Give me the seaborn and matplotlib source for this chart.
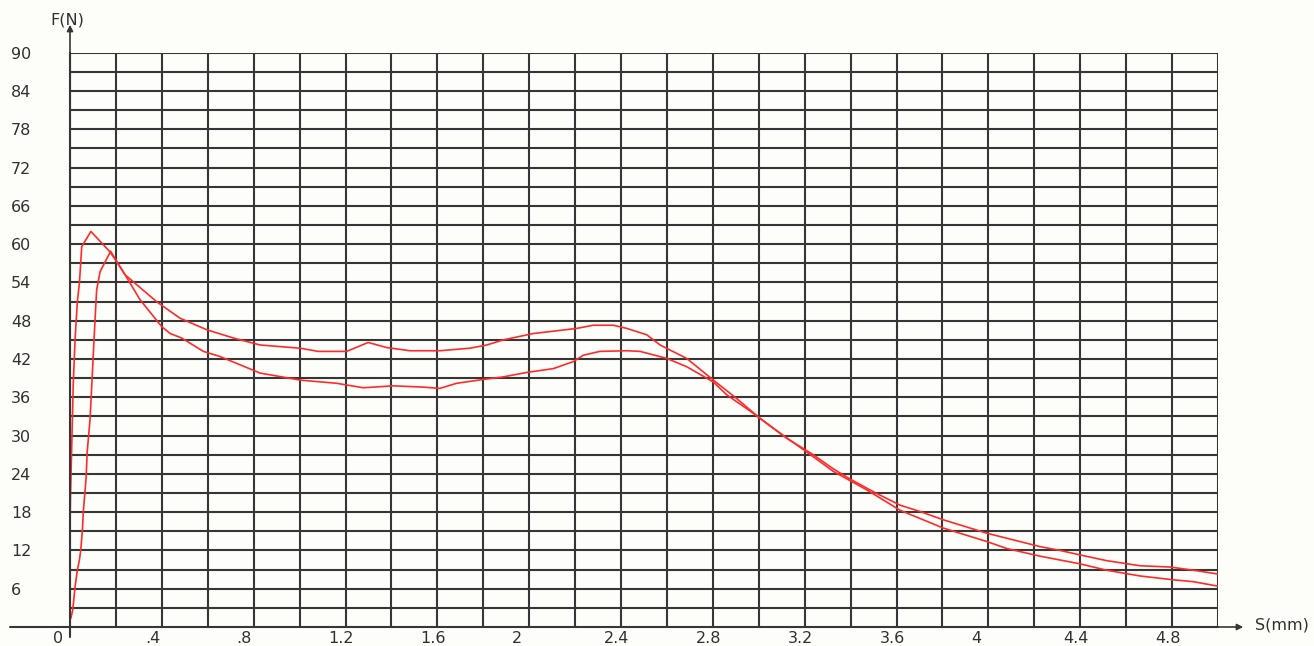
import numpy as np
import pandas as pd
import matplotlib
matplotlib.use('Agg')
import matplotlib.pyplot as plt
import seaborn as sns
from matplotlib.transforms import ScaledTranslation

# ==========================================
# data
# ==========================================
s_a = [0.000, 0.002, 0.008, 0.014, 0.022, 0.032, 0.041, 0.046, 0.051, 0.091,
       0.174, 0.203, 0.240, 0.305, 0.399, 0.436, 0.486, 0.581, 0.653, 0.828,
       1.002, 1.161, 1.277, 1.408, 1.539, 1.611, 1.684, 1.800, 1.887, 1.989,
       2.105, 2.192, 2.236, 2.308, 2.425, 2.483, 2.599, 2.686, 2.802, 2.860,
       2.976, 3.092, 3.237, 3.324, 3.470, 3.615, 3.804, 3.993, 4.080, 4.225,
       4.312, 4.399, 4.515, 4.660, 4.805, 4.893, 5.000]
f_a = [16.0, 20.4, 29.0, 38.0, 45.0, 51.0, 53.9, 56.7, 59.6, 62.0,
       58.8, 57.3, 55.2, 51.3, 47.1, 46.0, 45.3, 43.2, 42.4, 39.8,
       38.7, 38.2, 37.5, 37.8, 37.6, 37.4, 38.2, 38.8, 39.2, 39.9,
       40.5, 41.6, 42.6, 43.2, 43.3, 43.2, 42.1, 40.8, 38.4, 36.4,
       33.5, 30.4, 26.7, 24.4, 21.5, 18.3, 15.5, 13.4, 12.3, 11.1,
       10.5, 9.9, 8.9, 8.0, 7.4, 7.1, 6.4]

s_b = [0.004, 0.012, 0.022, 0.032, 0.041, 0.047, 0.054, 0.058, 0.070, 0.075,
       0.087, 0.095, 0.101, 0.109, 0.116, 0.131, 0.177, 0.203, 0.240, 0.377,
       0.479, 0.595, 0.711, 0.828, 1.002, 1.081, 1.205, 1.299, 1.379, 1.481,
       1.611, 1.742, 1.815, 1.887, 2.018, 2.207, 2.279, 2.366, 2.425, 2.512,
       2.570, 2.686, 2.802, 2.904, 3.005, 3.121, 3.237, 3.324, 3.397, 3.499,
       3.615, 3.702, 3.804, 3.993, 4.225, 4.312, 4.399, 4.515, 4.660, 4.791,
       4.893, 5.000]
f_b = [1.4, 2.7, 6.3, 8.9, 10.5, 12.1, 15.2, 18.1, 23.3, 27.5,
       32.4, 38.0, 42.4, 48.1, 52.8, 55.7, 58.9, 57.3, 55.2, 51.0,
       48.4, 46.6, 45.3, 44.2, 43.7, 43.2, 43.2, 44.6, 43.8, 43.3,
       43.3, 43.7, 44.2, 45.0, 46.0, 46.8, 47.3, 47.3, 46.8, 45.8,
       44.2, 42.1, 38.7, 35.8, 32.7, 29.6, 27.0, 24.8, 23.2, 21.2,
       19.1, 18.1, 16.8, 14.7, 12.6, 12.0, 11.3, 10.4, 9.6, 9.4,
       8.9, 8.3]

x_ticks = [0, 0.4, 0.8, 1.2, 1.6, 2.0, 2.4, 2.8, 3.2, 3.6, 4.0, 4.4, 4.8]
x_labels = ['0', '.4', '.8', '1.2', '1.6', '2', '2.4', '2.8', '3.2', '3.6', '4', '4.4', '4.8']
y_ticks = [6, 12, 18, 24, 30, 36, 42, 48, 54, 60, 66, 72, 78, 84, 90]
y_labels = [str(v) for v in y_ticks]

# ==========================================
# style
# ==========================================
sns.set_style('white')
plt.rcParams['font.family'] = ['DejaVu Sans']

BG = '#fdfdf9'
GRID = '#363636'
RED = '#ff2b2b'
TXT = '#303030'

fig = plt.figure(figsize=(13.14, 6.46), dpi=100, facecolor=BG)
ax = fig.add_axes([70 / 1314, 19 / 646, 1148 / 1314, (627 - 52.8) / 646])
ax.set_facecolor(BG)

df_a = pd.DataFrame({'S': s_a, 'F': f_a})
df_b = pd.DataFrame({'S': s_b, 'F': f_b})
sns.lineplot(data=df_a, x='S', y='F', sort=False, estimator=None, color=RED, lw=1.2, ax=ax, zorder=3)
sns.lineplot(data=df_b, x='S', y='F', sort=False, estimator=None, color=RED, lw=1.2, ax=ax, zorder=3)

ax.set_xlim(0, 5.0)
ax.set_ylim(0, 90)

# grid every 0.2 / 3, labels every 0.4 / 6
ax.set_xticks(np.arange(0.2, 5.01, 0.2), minor=True)
ax.set_yticks(np.arange(3, 90.1, 3), minor=True)
ax.set_xticks(x_ticks)
ax.set_xticklabels(x_labels)
ax.set_yticks(y_ticks)
ax.set_yticklabels(y_labels)
ax.grid(which='both', color=GRID, lw=1.5)
ax.tick_params(which='both', length=0)
ax.tick_params(axis='y', pad=42.5, labelsize=11.5, labelcolor=TXT)
ax.tick_params(axis='x', pad=3, labelsize=11.5, labelcolor=TXT)
for lab in ax.get_yticklabels():
    lab.set_horizontalalignment('left')
for lab in ax.get_xticklabels():
    lab.set_horizontalalignment('left')
    lab.set_transform(lab.get_transform() + ScaledTranslation(-0.17, 0, fig.dpi_scale_trans))

for sp in ax.spines.values():
    sp.set_visible(False)

# axes with arrows
ax.plot([-0.26, 5.0], [0, 0], color=GRID, lw=1.5, clip_on=False, zorder=4)
ax.plot([0, 0], [-1.6, 90], color=GRID, lw=1.5, clip_on=False, zorder=4)
ax.annotate('', xy=(5.11, 0), xytext=(5.0, 0), annotation_clip=False,
            arrowprops=dict(arrowstyle='-|>', color=GRID, lw=1.2, mutation_scale=9, shrinkA=0, shrinkB=0))
ax.annotate('', xy=(0, 94.4), xytext=(0, 90), annotation_clip=False,
            arrowprops=dict(arrowstyle='-|>', color=GRID, lw=1.2, mutation_scale=9, shrinkA=0, shrinkB=0))

ax.text(-0.01, 95.2, 'F(N)', ha='center', va='center', fontsize=11.5, color=TXT, clip_on=False)
ax.text(5.16, 0.3, 'S(mm)', ha='left', va='center', fontsize=11.5, color=TXT, clip_on=False)
ax.set_xlabel('')
ax.set_ylabel('')

plt.savefig('out.png', dpi=100, facecolor=BG)
